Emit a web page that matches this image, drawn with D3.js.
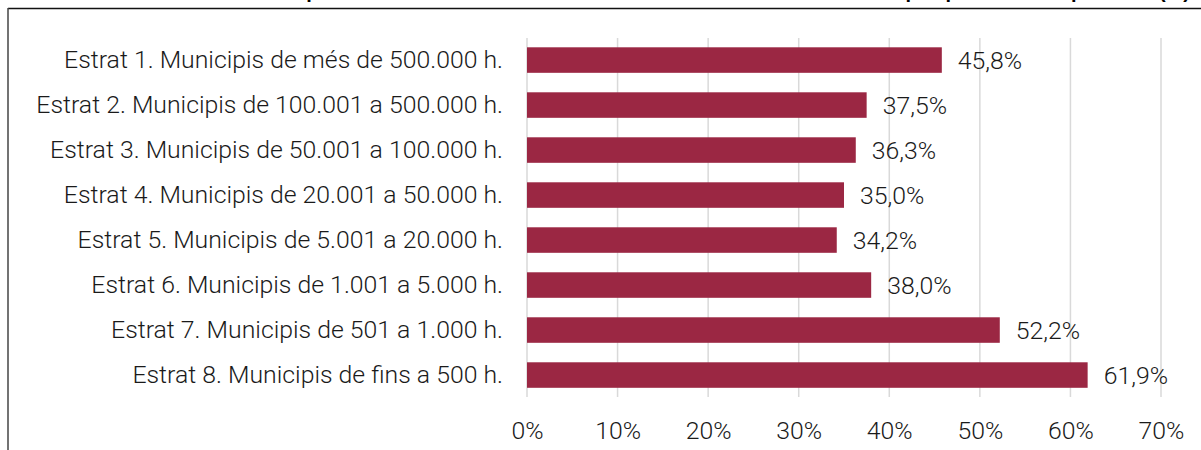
<!DOCTYPE html>
<html>
<head>
<meta charset="utf-8">
<script src="https://cdn.jsdelivr.net/npm/d3@7"></script>
<style>
  body { margin: 0; background: #fff; }
  svg { display: block; }
</style>
</head>
<body>
<script>
// Categories (strata) and their percentages
const categories = [
    "Estrat 1. Municipis de més de 500.000 h.",
    "Estrat 2. Municipis de 100.001 a 500.000 h.",
    "Estrat 3. Municipis de 50.001 a 100.000 h.",
    "Estrat 4. Municipis de 20.001 a 50.000 h.",
    "Estrat 5. Municipis de 5.001 a 20.000 h.",
    "Estrat 6. Municipis de 1.001 a 5.000 h.",
    "Estrat 7. Municipis de 501 a 1.000 h.",
    "Estrat 8. Municipis de fins a 500 h."
];
const values = [45.8, 37.5, 36.3, 35.0, 34.2, 38.0, 52.2, 61.9];
const tickValues = [0, 10, 20, 30, 40, 50, 60, 70];
const title = "Gràfic 6. Despesa de les entitats locals sobre el total dels recursos reals en pes per estrat de població (%)";

const width = 1201;
const height = 450;
const font = "Roboto, 'Liberation Sans', sans-serif";
const fontSize = '24.8px';
const textColor = '#1a1a1a';

const svg = d3.select('body').append('svg')
    .attr('width', width)
    .attr('height', height);

// Title, mostly cut off above the frame
svg.append('text')
    .attr('x', 1190)
    .attr('y', -2)
    .attr('text-anchor', 'end')
    .style('font-family', "'Liberation Sans', Arial, sans-serif")
    .style('font-weight', 'bold')
    .style('font-size', '20px')
    .attr('fill', '#000')
    .text(title);

// Frame
svg.append('line')
    .attr('x1', 8).attr('x2', width)
    .attr('y1', 8.5).attr('y2', 8.5)
    .attr('stroke', '#111').attr('stroke-width', 1.5);
svg.append('line')
    .attr('x1', 8).attr('x2', 8)
    .attr('y1', 8).attr('y2', height)
    .attr('stroke', '#444').attr('stroke-width', 1.5);

// Scales
const xScale = d3.scaleLinear()
    .domain([0, 70])
    .range([527, 1161]);

const yScale = d3.scaleBand()
    .domain(categories)
    .range([24.8, 410.3])
    .paddingInner(0.433)
    .paddingOuter(0.5);

// Gridlines
svg.append('g')
    .selectAll('line')
    .data(tickValues)
    .enter().append('line')
    .attr('x1', d => xScale(d))
    .attr('x2', d => xScale(d))
    .attr('y1', 38)
    .attr('y2', 397)
    .attr('stroke', '#d9d9d9')
    .attr('stroke-width', 1.5);

// Bars
svg.append('g')
    .selectAll('rect')
    .data(values)
    .enter().append('rect')
    .attr('x', xScale(0))
    .attr('y', (d, i) => yScale(categories[i]))
    .attr('width', d => xScale(d) - xScale(0))
    .attr('height', yScale.bandwidth())
    .attr('fill', '#9b2743');

// Value labels
svg.append('g')
    .selectAll('text')
    .data(values)
    .enter().append('text')
    .attr('x', d => xScale(d) + 16)
    .attr('y', (d, i) => yScale(categories[i]) + yScale.bandwidth() / 2)
    .attr('dy', '0.35em')
    .style('font-family', font)
    .style('font-weight', 300)
    .style('font-size', fontSize)
    .attr('fill', textColor)
    .text(d => d.toFixed(1).replace('.', ',') + '%');

// Category labels
svg.append('g')
    .selectAll('text')
    .data(categories)
    .enter().append('text')
    .attr('x', 503)
    .attr('y', d => yScale(d) + yScale.bandwidth() / 2 - 1)
    .attr('dy', '0.35em')
    .attr('text-anchor', 'end')
    .style('font-family', font)
    .style('font-weight', 300)
    .style('font-size', fontSize)
    .attr('fill', textColor)
    .text(d => d);

// X axis tick labels
const xAxis = d3.axisBottom(xScale)
    .tickValues(tickValues)
    .tickFormat(d => d + '%')
    .tickSize(0)
    .tickPadding(0);

const gx = svg.append('g')
    .attr('transform', 'translate(0,421)')
    .call(xAxis);
gx.select('.domain').remove();
gx.selectAll('text')
    .style('font-family', font)
    .style('font-weight', 300)
    .style('font-size', fontSize)
    .attr('fill', textColor);
</script>
</body>
</html>
